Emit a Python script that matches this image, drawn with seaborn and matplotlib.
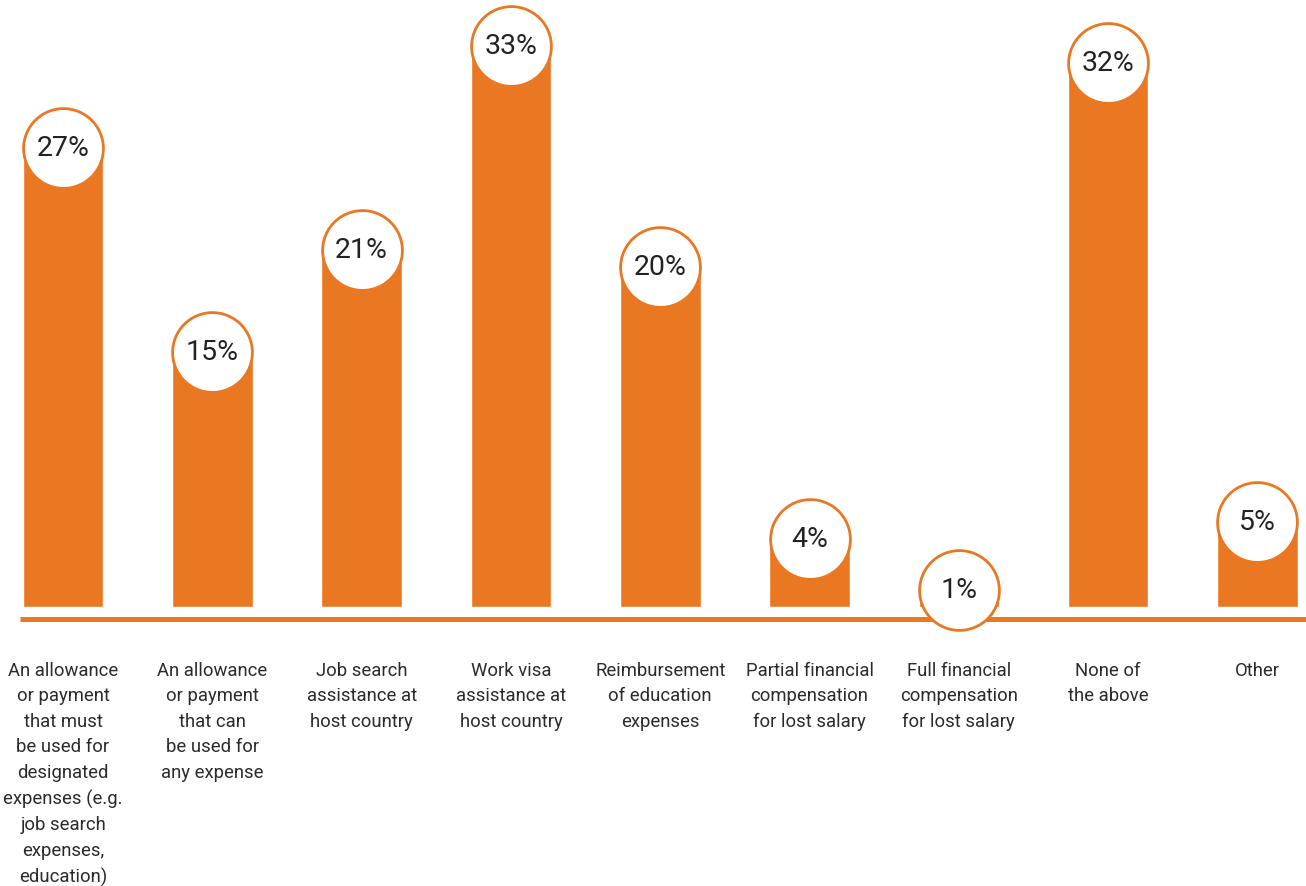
import matplotlib
matplotlib.use("Agg")
import matplotlib.pyplot as plt
import seaborn as sns
import pandas as pd

categories = [
    "An allowance\nor payment\nthat must\nbe used for\ndesignated\nexpenses (e.g.\njob search\nexpenses,\neducation)",
    "An allowance\nor payment\nthat can\nbe used for\nany expense",
    "Job search\nassistance at\nhost country",
    "Work visa\nassistance at\nhost country",
    "Reimbursement\nof education\nexpenses",
    "Partial financial\ncompensation\nfor lost salary",
    "Full financial\ncompensation\nfor lost salary",
    "None of\nthe above",
    "Other",
]
values = [27, 15, 21, 33, 20, 4, 1, 32, 5]
value_labels = ["27%", "15%", "21%", "33%", "20%", "4%", "1%", "32%", "5%"]

ORANGE = "#EA7722"
TEXT = "#222222"

sns.set_theme(style="white")
plt.rcParams["font.family"] = ["Roboto", "DejaVu Sans"]

df = pd.DataFrame({"category": categories, "value": values})

fig = plt.figure(figsize=(13.06, 8.87), dpi=100)
ax = fig.add_axes([0, 0, 1, 1])

sns.barplot(data=df, x="category", y="value", color=ORANGE, saturation=1,
            width=0.54, ax=ax, zorder=2)

px = 17.0  # pixels per percentage point
ax.set_xlim(-0.422, 8.325)
ax.set_ylim(-(887 - 608) / px, 608 / px)

# baseline under the bars
ax.plot([-0.288, 8.325], [-12 / px, -12 / px], color=ORANGE, lw=3.6,
        solid_capstyle="butt", zorder=1)

# value bubbles on top of each bar
xs = list(range(len(values)))
ax.scatter(xs, values, s=3300, facecolor="white", edgecolor=ORANGE,
           linewidth=2.0, zorder=3)
for x, v, lab in zip(xs, values, value_labels):
    ax.text(x, v, lab, ha="center", va="center", fontsize=20.5,
            fontweight="normal", color=TEXT, zorder=4)

# category labels under the baseline
for x, cat in zip(xs, categories):
    ax.text(x, -(662 - 608) / px, cat, ha="center", va="top", fontsize=13.3,
            fontweight="normal", color="#2b2b2b", linespacing=1.53, zorder=4)

ax.set_xticks([])
ax.set_yticks([])
ax.set_xlabel("")
ax.set_ylabel("")
for s in ax.spines.values():
    s.set_visible(False)

fig.savefig("out.png", dpi=100, facecolor="white")
